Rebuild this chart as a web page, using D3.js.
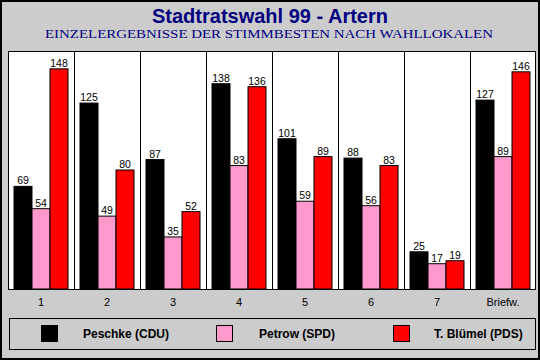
<!DOCTYPE html>
<html><head><meta charset="utf-8">
<script src="https://cdn.jsdelivr.net/npm/d3@7"></script>
<style>html,body{margin:0;padding:0;background:#fff}svg{display:block}</style>
</head><body>
<svg id="c" width="540" height="360"></svg>
<script>
const categories = ["1","2","3","4","5","6","7","Briefw."];
const seriesNames = ["Peschke (CDU)","Petrow (SPD)","T. Blümel (PDS)"];
const peschke = [69,125,87,138,101,88,25,127];
const petrow  = [54,49,35,83,59,56,17,89];
const bluemel = [148,80,52,136,89,83,19,146];
const colors = ["#000000","#ff99cc","#ff0000"];
const title = "Stadtratswahl 99 - Artern";
const subtitle = "EINZELERGEBNISSE DER STIMMBESTEN NACH WAHLLOKALEN";

const series = [peschke, petrow, bluemel];
const svg = d3.select("#c");
const W = 540, H = 360;
const plot = {x0: 8, x1: 536, y0: 51, y1: 289};

svg.append("rect").attr("x",1).attr("y",1).attr("width",W-2).attr("height",H-2)
  .attr("fill","#cccccc").attr("stroke","#000").attr("stroke-width",2);

svg.append("text").attr("x",270).attr("y",22.5).attr("text-anchor","middle")
  .attr("font-family","Liberation Sans, Arial, sans-serif").attr("font-weight","bold")
  .attr("font-size",20).attr("fill","#000080").text(title);
svg.append("text").attr("x",269).attr("y",38).attr("text-anchor","middle")
  .attr("font-family","Liberation Serif, Times New Roman, serif")
  .attr("font-size",13).attr("fill","#000080")
  .attr("textLength",448).attr("lengthAdjust","spacingAndGlyphs").text(subtitle);

const x0 = d3.scaleBand().domain(categories).range([plot.x0, plot.x1]).paddingInner(0).paddingOuter(0);
const x1 = d3.scaleBand().domain(d3.range(series.length)).range([6, 60]).padding(0);
const y = d3.scaleLinear().domain([0,160]).range([plot.y1, plot.y0]);

svg.append("rect").attr("x",plot.x0+0.5).attr("y",plot.y0+0.5)
  .attr("width",plot.x1-plot.x0-1).attr("height",plot.y1-plot.y0)
  .attr("fill","#fff").attr("stroke","#000").attr("stroke-width",1);

// group dividers
svg.append("g").selectAll("line").data(categories.slice(1)).join("line")
  .attr("x1",d=>Math.round(x0(d))+0.5).attr("x2",d=>Math.round(x0(d))+0.5)
  .attr("y1",plot.y0).attr("y2",plot.y1)
  .attr("stroke","#000").attr("stroke-width",1);

const groups = svg.append("g").selectAll("g").data(categories).join("g")
  .attr("transform",d=>`translate(${x0(d)},0)`);

groups.each(function(cat, ci){
  const g = d3.select(this);
  series.forEach((vals, si) => {
    const v = vals[ci];
    const bx = x1(si), bw = x1.bandwidth();
    g.append("rect").attr("x",bx).attr("y",y(v))
      .attr("width",bw).attr("height",y(0)-y(v))
      .attr("fill",colors[si]).attr("stroke","#000").attr("stroke-width",1);
    g.append("text").attr("x",bx+bw/2).attr("y",y(v)-2).attr("text-anchor","middle")
      .attr("font-family","Liberation Sans, Arial, sans-serif").attr("font-size",10.5)
      .attr("fill","#000").text(v);
  });
});

// x axis labels
const xAxis = d3.axisBottom(x0).tickSize(0).tickPadding(9);
const ax = svg.append("g").attr("transform",`translate(0,${plot.y1})`).call(xAxis);
ax.select(".domain").remove();
ax.selectAll("text").attr("font-family","Liberation Sans, Arial, sans-serif")
  .attr("font-size",11).attr("fill","#000");

// legend
svg.append("rect").attr("x",9.5).attr("y",318.5).attr("width",526).attr("height",31)
  .attr("fill","none").attr("stroke","#000").attr("stroke-width",1);
const legX = [41, 216, 393];
const legTX = [83, 259, 434];
const leg = svg.append("g").selectAll("g").data(seriesNames).join("g");
leg.append("rect").attr("x",(d,i)=>legX[i]+0.5).attr("y",325.5).attr("width",16).attr("height",16)
  .attr("fill",(d,i)=>colors[i]).attr("stroke","#000").attr("stroke-width",1);
leg.append("text").attr("x",(d,i)=>legTX[i]).attr("y",338)
  .attr("font-family","Liberation Sans, Arial, sans-serif").attr("font-weight","bold")
  .attr("font-size",12).attr("fill","#000").text(d=>d);
</script>
</body></html>
